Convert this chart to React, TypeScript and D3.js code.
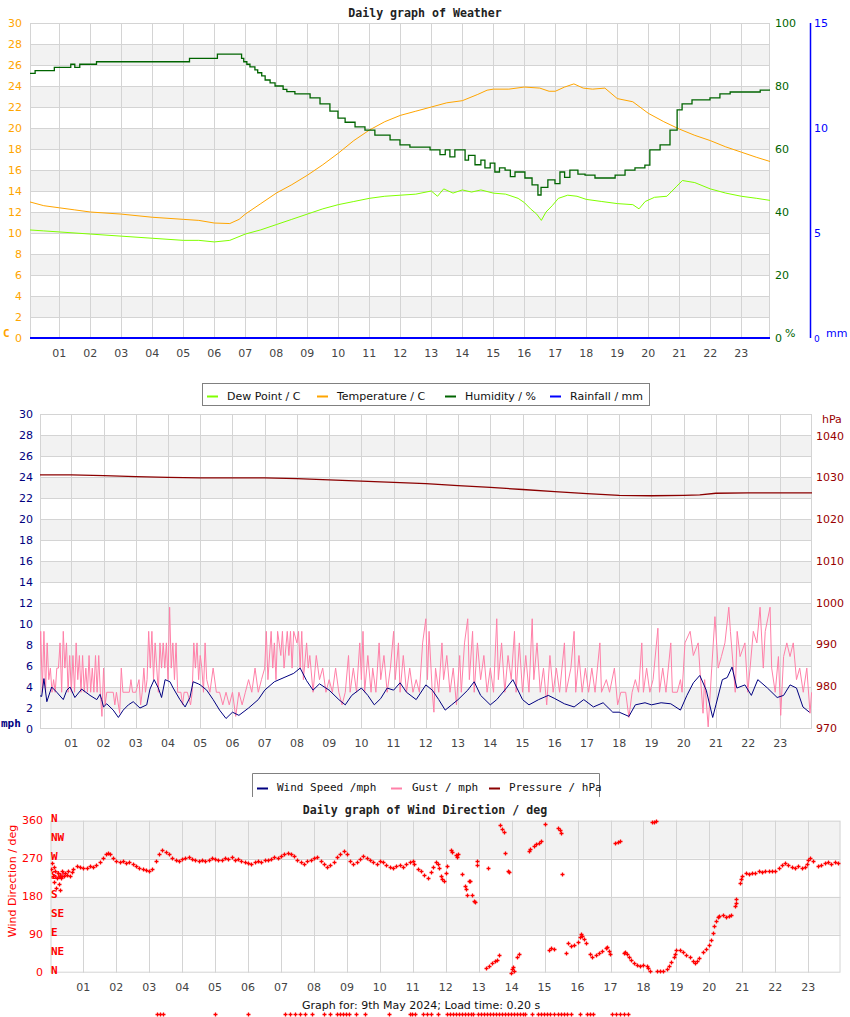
import React from 'react';
import * as d3 from 'd3';

// ---------- DATA ----------
const hourLabels = ["01","02","03","04","05","06","07","08","09","10","11","12","13","14","15","16","17","18","19","20","21","22","23"];
const hourTicks = [1,2,3,4,5,6,7,8,9,10,11,12,13,14,15,16,17,18,19,20,21,22,23];
const tempTicks = [0,2,4,6,8,10,12,14,16,18,20,22,24,26,28,30];
const humTicks = [0,20,40,60,80,100];
const rainTicks = [5,10,15];
const windTicks = [0,2,4,6,8,10,12,14,16,18,20,22,24,26,28,30];
const pressTicks = [970,980,990,1000,1010,1020,1030,1040];
const dirTicks = [0,90,180,270,360];
const compass = [[0,"N"],[45,"NE"],[90,"E"],[135,"SE"],[180,"S"],[225,"SW"],[270,"W"],[315,"NW"],[360,"N"]] as [number,string][];

// [hour, °C]
const temperature: [number,number][] = [[0,13.0],[0.5,12.6],[1,12.4],[1.5,12.2],[2,12.0],[3,11.8],[4,11.5],[5,11.3],[5.5,11.2],[6,10.95],[6.5,10.9],[6.8,11.3],[7,11.8],[7.5,12.8],[8,13.8],[8.5,14.6],[9,15.5],[9.5,16.5],[10,17.6],[10.5,18.8],[11,19.8],[11.5,20.6],[12,21.2],[12.5,21.6],[13,22.0],[13.5,22.4],[14,22.6],[14.5,23.2],[14.8,23.6],[15,23.7],[15.5,23.7],[16,23.9],[16.5,23.8],[16.8,23.5],[17,23.5],[17.3,23.9],[17.6,24.2],[17.9,23.8],[18.2,23.7],[18.6,23.8],[19,22.8],[19.5,22.5],[20,21.4],[20.5,20.6],[21,19.9],[21.5,19.3],[22,18.8],[22.5,18.2],[23,17.7],[23.5,17.2],[23.94,16.8]];
const dewPoint: [number,number][] = [[0,10.3],[0.5,10.2],[1,10.1],[2,9.9],[3,9.7],[4,9.5],[5,9.3],[5.5,9.3],[6,9.15],[6.5,9.3],[7,9.9],[7.5,10.3],[8,10.8],[8.5,11.3],[9,11.8],[9.5,12.3],[10,12.7],[10.5,13.0],[11,13.3],[11.5,13.5],[12,13.6],[12.5,13.7],[13,14.0],[13.2,13.5],[13.4,14.2],[13.7,13.8],[14,14.1],[14.3,13.9],[14.6,14.1],[15,13.8],[15.4,13.7],[15.8,13.3],[16.0,12.9],[16.2,12.3],[16.4,11.8],[16.55,11.2],[16.7,12.0],[16.9,12.6],[17.1,13.3],[17.4,13.6],[17.7,13.5],[18,13.2],[18.5,13.0],[19,12.8],[19.5,12.7],[19.7,12.3],[19.9,13.0],[20.2,13.4],[20.6,13.5],[20.9,14.4],[21.1,15.0],[21.5,14.8],[22,14.2],[22.5,13.8],[23,13.5],[23.5,13.3],[23.94,13.1]];
// [hour, %]
const humidity: [number,number][] = [[0,84.0],[0.22,84.9],[0.84,85.9],[1.37,86.9],[1.5,85.9],[1.66,86.9],[2.2,87.7],[5.2,88.8],[6.1,90.1],[6.88,88.8],[6.95,87.7],[7.05,86.9],[7.15,86.1],[7.31,85.1],[7.4,84.2],[7.53,83.2],[7.64,81.9],[7.8,81.0],[7.96,80.0],[8.22,78.9],[8.34,78.2],[8.6,77.5],[9.09,76.2],[9.41,74.3],[9.73,72.0],[9.99,69.8],[10.22,68.5],[10.54,67.0],[10.86,66.0],[11.18,64.4],[11.67,62.9],[11.99,61.3],[12.31,60.6],[12.64,60.6],[12.96,59.7],[13.28,58.2],[13.45,59.7],[13.6,57.5],[13.76,59.7],[14.09,56.5],[14.2,58.0],[14.41,55.0],[14.6,56.5],[14.73,54.0],[14.9,55.5],[15.05,52.7],[15.2,54.0],[15.38,53.3],[15.55,51.2],[15.7,52.7],[16.02,50.8],[16.25,48.6],[16.44,45.4],[16.54,47.8],[16.76,50.2],[16.99,49.0],[17.15,52.7],[17.3,51.0],[17.47,53.3],[17.73,52.0],[17.96,51.7],[18.28,50.8],[18.6,50.8],[18.93,51.7],[19.25,53.3],[19.57,54.0],[19.89,54.9],[20.05,59.7],[20.38,61.3],[20.7,66.0],[20.93,72.4],[21.09,74.3],[21.41,75.6],[21.67,75.6],[21.99,76.2],[22.31,77.5],[22.64,78.1],[23.29,78.1],[23.61,78.7],[23.94,79.0]];
// [hour, mm]
const rainfall: [number,number][] = [[0,0],[24,0]];
// [hour, hPa]
const pressure: [number,number][] = [[0,1030.7],[1,1030.7],[2,1030.5],[3,1030.3],[4,1030.1],[5,1030.0],[6,1030.0],[7,1030.0],[8,1029.8],[9,1029.5],[10,1029.2],[11,1028.9],[12,1028.6],[13,1028.1],[14,1027.7],[15,1027.2],[16,1026.7],[17,1026.2],[18,1025.8],[19,1025.7],[20,1025.8],[20.5,1025.9],[21,1026.3],[22,1026.4],[23,1026.4],[24,1026.4]];
// [hour, mph]
const windSpeed: [number,number][] = [[0.0,3.2],[0.08,3.1],[0.15,4.8],[0.24,2.6],[0.39,4.0],[0.55,3.5],[0.75,2.8],[0.86,3.7],[0.96,4.0],[1.11,3.0],[1.32,3.8],[1.58,3.2],[1.79,2.8],[1.89,3.3],[1.94,2.8],[2.0,2.1],[2.1,2.4],[2.3,1.8],[2.46,1.1],[2.61,1.8],[2.77,2.3],[2.92,2.6],[3.13,2.0],[3.34,2.3],[3.44,3.8],[3.57,4.7],[3.7,3.9],[3.8,3.0],[3.91,4.7],[4.06,4.5],[4.16,3.9],[4.37,2.8],[4.53,2.1],[4.68,3.0],[4.78,4.5],[4.94,4.3],[5.0,4.2],[5.2,3.7],[5.4,2.8],[5.6,1.8],[5.8,1.0],[6.0,1.6],[6.2,1.3],[6.5,2.0],[6.8,2.8],[7.0,3.7],[7.3,4.5],[7.6,4.9],[7.9,5.3],[8.1,5.8],[8.3,4.6],[8.5,3.7],[8.7,4.3],[9.0,3.7],[9.3,2.8],[9.5,2.3],[9.7,3.2],[10.0,3.9],[10.2,3.2],[10.4,2.3],[10.6,2.9],[10.8,3.9],[11.0,3.7],[11.2,4.4],[11.4,3.5],[11.7,2.8],[12.0,4.2],[12.2,3.7],[12.4,2.8],[12.6,1.8],[12.8,2.3],[13.0,2.8],[13.3,3.7],[13.5,4.5],[13.7,3.2],[14.0,2.3],[14.2,2.8],[14.5,3.9],[14.7,4.7],[15.0,2.8],[15.2,2.3],[15.5,2.8],[15.8,3.2],[16.0,2.9],[16.3,2.4],[16.6,2.1],[16.9,2.8],[17.2,2.1],[17.5,2.5],[17.8,1.6],[18.0,1.6],[18.3,1.2],[18.5,2.3],[18.8,2.5],[19.0,2.3],[19.3,2.5],[19.6,2.4],[19.9,1.8],[20.1,3.2],[20.3,4.4],[20.5,5.1],[20.7,3.7],[20.9,1.1],[21.0,2.3],[21.2,4.7],[21.35,4.9],[21.5,5.9],[21.65,3.9],[21.9,4.2],[22.1,3.2],[22.3,4.7],[22.6,3.9],[22.9,3.0],[23.1,3.2],[23.3,4.2],[23.5,3.9],[23.7,2.1],[23.9,1.6]];
const windGust: [number,number][] = [[0.0,3.5],[0.05,9.3],[0.1,3.5],[0.15,9.3],[0.2,3.5],[0.25,8.2],[0.3,4.7],[0.35,5.8],[0.4,3.5],[0.45,4.7],[0.5,3.5],[0.55,5.8],[0.6,5.8],[0.65,8.2],[0.7,3.5],[0.75,9.3],[0.8,5.8],[0.85,8.2],[0.9,3.5],[0.95,7.0],[1.0,3.5],[1.05,7.0],[1.1,3.5],[1.15,8.2],[1.2,4.7],[1.25,7.0],[1.3,3.5],[1.35,7.0],[1.4,3.5],[1.45,5.8],[1.5,3.5],[1.55,7.0],[1.6,3.5],[1.65,5.8],[1.7,3.5],[1.75,7.0],[1.8,3.5],[1.85,7.0],[1.9,3.5],[1.95,1.2],[2.0,5.8],[2.05,2.3],[2.1,3.5],[2.3,3.5],[2.35,2.3],[2.4,3.5],[2.5,1.5],[2.55,5.8],[2.6,3.5],[2.8,3.5],[2.85,4.7],[2.9,3.5],[3.0,3.5],[3.1,4.7],[3.15,2.3],[3.2,3.5],[3.25,5.8],[3.3,3.5],[3.35,4.7],[3.4,9.3],[3.45,5.8],[3.5,9.3],[3.55,4.7],[3.6,8.2],[3.65,5.8],[3.7,3.5],[3.75,8.2],[3.8,5.8],[3.85,8.2],[3.9,5.8],[3.95,8.2],[4.0,4.7],[4.05,11.6],[4.1,5.8],[4.15,8.2],[4.2,4.7],[4.25,8.2],[4.3,3.5],[4.4,3.5],[4.45,2.3],[4.5,3.5],[4.6,3.5],[4.7,2.3],[4.75,3.5],[4.8,8.2],[4.85,5.8],[4.9,8.2],[4.95,4.7],[5.0,7.0],[5.05,5.8],[5.1,3.5],[5.15,8.2],[5.2,4.7],[5.3,3.5],[5.4,5.8],[5.5,3.5],[5.6,3.5],[5.7,2.3],[5.8,3.5],[5.9,2.3],[6.0,3.5],[6.1,1.2],[6.2,3.5],[6.3,2.3],[6.4,3.5],[6.5,4.7],[6.6,3.5],[6.7,5.8],[6.8,3.5],[6.9,4.7],[7.0,5.8],[7.05,9.3],[7.1,4.7],[7.2,9.3],[7.25,5.8],[7.3,8.2],[7.35,4.7],[7.4,9.3],[7.5,7.0],[7.55,9.3],[7.6,5.8],[7.7,9.3],[7.75,7.0],[7.8,9.3],[7.85,5.8],[7.9,9.3],[8.0,8.2],[8.05,9.3],[8.1,5.8],[8.15,9.3],[8.2,4.7],[8.3,8.2],[8.35,5.8],[8.4,7.0],[8.5,3.5],[8.6,7.0],[8.7,4.7],[8.8,5.8],[8.9,3.5],[9.0,4.7],[9.1,3.5],[9.2,5.8],[9.3,3.5],[9.4,2.3],[9.5,3.5],[9.6,7.0],[9.65,3.5],[9.75,5.8],[9.85,3.5],[9.95,8.2],[10.0,4.7],[10.05,9.3],[10.1,3.5],[10.2,7.0],[10.3,3.5],[10.35,5.8],[10.45,3.5],[10.55,8.2],[10.6,4.7],[10.7,7.0],[10.8,3.5],[10.9,5.8],[11.0,9.3],[11.05,4.7],[11.15,8.2],[11.2,3.5],[11.3,7.0],[11.4,3.5],[11.5,5.8],[11.6,3.5],[11.7,4.7],[11.8,3.5],[11.9,8.2],[12.0,10.5],[12.05,4.7],[12.1,9.3],[12.2,3.5],[12.25,1.6],[12.3,5.8],[12.4,3.5],[12.5,8.2],[12.55,4.7],[12.65,7.0],[12.75,3.5],[12.85,5.8],[12.95,2.3],[13.05,7.0],[13.1,3.5],[13.2,8.2],[13.3,10.5],[13.35,4.7],[13.45,9.3],[13.5,3.5],[13.6,8.2],[13.7,4.7],[13.8,7.0],[13.9,3.5],[14.0,5.8],[14.1,3.5],[14.2,10.5],[14.25,4.7],[14.35,8.2],[14.45,3.5],[14.55,7.0],[14.65,4.7],[14.75,9.3],[14.8,3.5],[14.9,8.2],[15.0,3.5],[15.1,7.0],[15.2,3.5],[15.3,10.5],[15.35,4.7],[15.45,8.2],[15.55,3.5],[15.65,5.8],[15.75,2.3],[15.85,7.0],[15.95,3.5],[16.05,5.8],[16.15,3.5],[16.3,8.2],[16.35,3.5],[16.5,5.8],[16.6,9.3],[16.65,3.5],[16.75,7.0],[16.85,3.5],[16.95,5.8],[17.05,3.5],[17.15,5.8],[17.25,3.5],[17.4,8.2],[17.45,3.5],[17.6,4.7],[17.7,3.5],[17.85,5.8],[17.95,2.3],[18.05,3.5],[18.2,3.5],[18.3,1.1],[18.4,3.5],[18.5,4.7],[18.6,3.5],[18.7,8.2],[18.75,3.5],[18.85,5.8],[18.95,3.5],[19.05,4.7],[19.2,9.6],[19.25,3.5],[19.35,5.8],[19.45,3.5],[19.6,8.2],[19.65,3.5],[19.8,3.5],[19.9,4.7],[19.95,3.5],[20.04,8.2],[20.2,9.3],[20.3,7.0],[20.45,8.2],[20.5,5.8],[20.6,1.5],[20.65,4.7],[20.76,0.2],[20.87,5.8],[20.97,10.7],[21.07,5.8],[21.17,6.9],[21.28,8.2],[21.4,11.6],[21.45,9.3],[21.6,3.5],[21.66,9.3],[21.75,6.9],[21.9,8.2],[21.99,3.5],[22.06,5.8],[22.16,9.3],[22.27,8.2],[22.37,11.6],[22.47,5.8],[22.53,9.3],[22.68,11.6],[22.73,5.8],[22.84,3.5],[22.94,6.9],[23.01,1.3],[23.1,6.9],[23.2,8.2],[23.3,6.9],[23.4,8.2],[23.5,4.7],[23.6,5.8],[23.71,3.5],[23.82,5.8],[23.92,1.5],[23.97,3.5]];
// [hour, degrees]
const windDir: [number,number][] = [[0.02,245],[0.05,260],[0.08,230],[0.1,215],[0.12,250],[0.15,240],[0.18,200],[0.2,225],[0.22,235],[0.25,210],[0.28,230],[0.3,195],[0.32,225],[0.35,240],[0.4,230],[0.45,235],[0.5,232],[0.55,240],[0.6,228],[0.65,238],[0.7,245],[0.8,252],[0.9,250],[1.0,247],[1.1,248],[1.2,252],[1.3,250],[1.4,255],[1.5,262],[1.6,272],[1.7,280],[1.75,283],[1.8,280],[1.9,272],[2.0,265],[2.1,262],[2.2,265],[2.3,260],[2.4,262],[2.5,258],[2.6,252],[2.7,248],[2.8,245],[2.9,243],[3.0,240],[3.1,245],[3.2,265],[3.3,280],[3.4,290],[3.5,287],[3.6,280],[3.7,272],[3.8,268],[3.9,265],[4.0,270],[4.1,272],[4.2,275],[4.3,270],[4.4,266],[4.5,265],[4.6,268],[4.7,264],[4.8,268],[4.9,272],[5.0,270],[5.1,266],[5.2,268],[5.3,272],[5.4,270],[5.5,273],[5.6,268],[5.7,270],[5.8,265],[5.9,262],[6.0,260],[6.1,258],[6.2,262],[6.3,265],[6.4,263],[6.5,268],[6.6,266],[6.7,270],[6.8,274],[6.9,272],[7.0,277],[7.1,280],[7.2,284],[7.3,282],[7.4,276],[7.5,268],[7.6,262],[7.7,258],[7.8,265],[7.9,268],[8.0,272],[8.1,275],[8.2,265],[8.3,258],[8.4,250],[8.5,255],[8.6,262],[8.7,275],[8.8,282],[8.9,288],[9.0,280],[9.1,265],[9.2,258],[9.3,262],[9.4,270],[9.5,276],[9.6,272],[9.7,268],[9.8,262],[9.9,258],[10.0,265],[10.1,262],[10.2,255],[10.3,250],[10.4,248],[10.5,252],[10.6,256],[10.7,250],[10.8,258],[10.9,262],[11.0,265],[11.05,258],[11.15,245],[11.25,240],[11.35,232],[11.45,225],[11.55,238],[11.6,250],[11.7,262],[11.75,258],[11.8,248],[11.85,228],[11.9,222],[11.95,218],[12.0,235],[12.05,252],[12.15,290],[12.2,285],[12.3,278],[12.35,275],[12.38,280],[12.48,234],[12.58,205],[12.6,198],[12.65,183],[12.7,218],[12.75,218],[12.8,183],[12.85,170],[12.9,167],[12.95,255],[12.96,265],[13.22,12],[13.29,248],[13.3,17],[13.4,22],[13.5,28],[13.55,30],[13.61,42],[13.66,350],[13.72,340],[13.78,333],[13.8,284],[13.9,241],[13.93,238],[13.97,0],[14.0,8],[14.03,14],[14.08,5],[14.17,38],[14.22,44],[14.52,288],[14.57,292],[14.68,300],[14.75,305],[14.82,308],[14.88,313],[15.0,352],[15.12,53],[15.2,58],[15.28,55],[15.42,343],[15.47,338],[15.5,330],[15.54,234],[15.64,47],[15.72,70],[15.8,64],[15.9,66],[16.0,72],[16.07,85],[16.1,92],[16.15,88],[16.2,80],[16.27,70],[16.37,45],[16.45,38],[16.55,42],[16.65,46],[16.75,52],[16.85,58],[16.9,60],[16.95,52],[16.98,45],[17.15,308],[17.22,310],[17.28,312],[17.4,47],[17.45,50],[17.5,45],[17.55,38],[17.62,30],[17.7,22],[17.8,18],[17.9,15],[18.0,18],[18.1,17],[18.15,12],[18.2,5],[18.25,357],[18.32,358],[18.38,359],[18.42,3],[18.5,5],[18.6,5],[18.7,8],[18.78,15],[18.85,25],[18.92,38],[18.96,45],[19.0,53],[19.1,53],[19.2,48],[19.3,42],[19.4,38],[19.5,28],[19.56,23],[19.62,28],[19.7,35],[19.8,48],[19.9,55],[20.0,65],[20.05,78],[20.1,95],[20.15,110],[20.2,122],[20.25,132],[20.3,135],[20.4,136],[20.5,133],[20.6,135],[20.65,137],[20.78,158],[20.8,165],[20.82,175],[20.93,212],[20.97,222],[21.0,230],[21.1,235],[21.2,233],[21.3,236],[21.4,237],[21.5,240],[21.6,238],[21.7,242],[21.8,240],[21.9,241],[22.0,242],[22.1,248],[22.2,255],[22.3,260],[22.4,255],[22.5,250],[22.6,248],[22.7,253],[22.8,248],[22.9,250],[22.95,258],[23.0,268],[23.05,272],[23.15,265],[23.3,252],[23.4,255],[23.5,260],[23.6,262],[23.7,258],[23.8,262],[23.9,260]];
// hours of the marks peeking in at the very bottom
const bottomStrip: number[] = [3.24,3.33,3.42,5.0,6.0,7.12,7.27,7.43,7.58,7.73,7.94,8.3,8.49,8.7,8.79,8.88,8.97,9.06,9.27,9.55,10.28,10.9,10.97,11.07,11.31,11.43,11.55,11.76,12.04,12.13,12.22,12.31,12.4,12.49,12.58,12.67,12.77,12.83,12.98,13.07,13.16,13.25,13.34,13.43,13.52,13.61,13.7,13.79,13.88,13.97,14.06,14.15,14.24,14.33,14.42,14.62,14.8,14.89,14.98,15.07,15.16,15.3,15.4,15.5,15.6,15.68,15.8,16.07,16.29,16.38,16.47,17.05,17.17,17.29,17.41,17.53];

// ---------- STYLE ----------
const SANS = "'DejaVu Sans', sans-serif";
const MONO = "'DejaVu Sans Mono', monospace";
const GRID = "#d4d4d4";
const BAND = "#f2f2f2";
const C_TEMP = "#ffa500";
const C_DEW = "#80ff00";
const C_HUM = "#006400";
const C_RAIN = "#0000ff";
const C_WIND = "#000080";
const C_GUST = "#ff80a8";
const C_PRESS = "#8b0000";
const C_DIR = "#ff0000";

// ---------- SCALES ----------
const p1 = { l: 30, r: 770, t: 23, b: 338 };
const x1 = d3.scaleLinear().domain([0, 24]).range([28.3, 772.3]);
const y1 = d3.scaleLinear().domain([0, 30]).range([338, 23]);
const yHum = d3.scaleLinear().domain([0, 100]).range([338, 23]);
const yRain = d3.scaleLinear().domain([0, 15]).range([338, 23]);

const p2 = { l: 40, r: 812, t: 414, b: 729 };
const x2 = d3.scaleLinear().domain([0, 24]).range([39.1, 812.6]);
const y2 = d3.scaleLinear().domain([0, 30]).range([729, 414]);
const yP = d3.scaleLinear().domain([970, 1040]).range([728.5, 436]);

const p3 = { l: 50.5, r: 840.5, t: 820.7, b: 972.7 };
const x3 = d3.scaleLinear().domain([0, 24]).range([50.35, 841.15]);
const y3 = d3.scaleLinear().domain([0, 360]).range([972.7, 820.7]);

function mkLine(x: any, y: any, curve: any = d3.curveLinear) {
  return d3.line<[number, number]>().x(d => x(d[0])).y(d => y(d[1])).curve(curve);
}

function Grid({ p, x, y, bands, lines }: any) {
  return (
    <g>
      <rect x={p.l} y={p.t} width={p.r - p.l} height={p.b - p.t} fill="#fff" />
      {bands.map((b: [number, number], i: number) => (
        <rect key={'b' + i} x={p.l} y={y(b[1])} width={p.r - p.l} height={y(b[0]) - y(b[1])} fill={BAND} />
      ))}
      {lines.map((v: number, i: number) => (
        <line key={'h' + i} x1={p.l} x2={p.r} y1={Math.round(y(v)) + 0.5} y2={Math.round(y(v)) + 0.5} stroke={GRID} />
      ))}
      {hourTicks.map((h, i) => (
        <line key={'v' + i} x1={Math.round(x(h)) + 0.5} x2={Math.round(x(h)) + 0.5} y1={p.t} y2={p.b} stroke={GRID} />
      ))}
      <rect x={p.l + 0.5} y={p.t + 0.5} width={p.r - p.l - 1} height={p.b - p.t - 1} fill="none" stroke={GRID} />
    </g>
  );
}

function XLabels({ x, yy }: any) {
  return (
    <g>
      {hourTicks.map((h, i) => (
        <text key={i} x={x(h)} y={yy} textAnchor="middle" fontFamily={SANS} fontSize={11} fill="#444">{hourLabels[i]}</text>
      ))}
    </g>
  );
}

function Cross({ cx, cy }: { cx: number; cy: number }) {
  const X = Math.round(cx) + 0.5, Y = Math.round(cy) + 0.5;
  return <path d={`M${X - 2},${Y}H${X + 2}M${X},${Y - 2}V${Y + 2}`} stroke={C_DIR} strokeWidth={1.3} fill="none" />;
}

export default function App() {
  const bandsT = [[2,4],[6,8],[10,12],[14,16],[18,20],[22,24],[26,28]];
  const linesT = [2,4,6,8,10,12,14,16,18,20,22,24,26,28];
  const l1 = mkLine(x1, y1);
  const lHum = mkLine(x1, yHum, d3.curveStepAfter);
  const lRain = mkLine(x1, yRain);
  const l2 = mkLine(x2, y2);
  const lP = mkLine(x2, yP);

  return (
    <svg width={850} height={1017} style={{ position: 'absolute', left: 0, top: 0, background: '#fff' }}>
      <defs>
        <clipPath id="c1"><rect x={p1.l} y={p1.t - 1} width={p1.r - p1.l} height={p1.b - p1.t + 2} /></clipPath>
        <clipPath id="c2"><rect x={p2.l} y={p2.t - 1} width={p2.r - p2.l} height={p2.b - p2.t + 2} /></clipPath>
        <clipPath id="c3"><rect x={p3.l} y={p3.t - 3} width={p3.r - p3.l + 3} height={p3.b - p3.t + 6} /></clipPath>
      </defs>
      <rect x={0} y={0} width={850} height={1017} fill="#fff" />

      {/* ---------- CHART 1 ---------- */}
      <text x={425} y={13} textAnchor="middle" dominantBaseline="central" fontFamily={MONO} fontWeight="bold" fontSize={11.6} fill="#222">Daily graph of Weather</text>
      <Grid p={p1} x={x1} y={y1} bands={bandsT} lines={linesT} />
      <g clipPath="url(#c1)" fill="none" strokeWidth={1}>
        <path d={l1(dewPoint) || ''} stroke={C_DEW} />
        <path d={l1(temperature) || ''} stroke={C_TEMP} />
        <path d={lHum(humidity) || ''} stroke={C_HUM} strokeWidth={1.3} />
        <path d={lRain(rainfall) || ''} stroke={C_RAIN} strokeWidth={2} />
      </g>
      {tempTicks.map(v => (
        <text key={v} x={22} y={y1(v)} textAnchor="end" dominantBaseline="central" fontFamily={SANS} fontSize={11} fill={C_TEMP}>{v}</text>
      ))}
      <text x={3} y={333} dominantBaseline="central" fontFamily={MONO} fontWeight="bold" fontSize={11} fill={C_TEMP}>C</text>
      {humTicks.map(v => (
        <text key={v} x={775} y={yHum(v)} dominantBaseline="central" fontFamily={SANS} fontSize={11} fill={C_HUM}>{v}</text>
      ))}
      <text x={785} y={333} dominantBaseline="central" fontFamily={SANS} fontSize={11} fill={C_HUM}>%</text>
      <line x1={810.5} x2={810.5} y1={p1.t} y2={p1.b} stroke={C_RAIN} strokeWidth={1.5} />
      {rainTicks.map(v => (
        <text key={v} x={814} y={yRain(v)} dominantBaseline="central" fontFamily={SANS} fontSize={11} fill={C_RAIN}>{v}</text>
      ))}
      <text x={814} y={yRain(0) + 1} dominantBaseline="central" fontFamily={SANS} fontSize={9} fill={C_RAIN}>0</text>
      <text x={826} y={333} dominantBaseline="central" fontFamily={SANS} fontSize={11} fill={C_RAIN}>mm</text>
      <XLabels x={x1} yy={357} />

      {/* ---------- CHART 2 ---------- */}
      <Grid p={p2} x={x2} y={y2} bands={bandsT} lines={linesT} />
      <g clipPath="url(#c2)" fill="none" strokeWidth={1}>
        <path d={lP(pressure) || ''} stroke={C_PRESS} strokeWidth={1.3} />
        <path d={l2(windGust) || ''} stroke={C_GUST} />
        <path d={l2(windSpeed) || ''} stroke={C_WIND} />
      </g>
      {windTicks.map(v => (
        <text key={v} x={33} y={y2(v)} textAnchor="end" dominantBaseline="central" fontFamily={SANS} fontSize={11} fill={C_WIND}>{v}</text>
      ))}
      <text x={1} y={723} dominantBaseline="central" fontFamily={MONO} fontWeight="bold" fontSize={11} fill={C_WIND}>mph</text>
      {pressTicks.map(v => (
        <text key={v} x={816} y={yP(v)} dominantBaseline="central" fontFamily={SANS} fontSize={11} fill="#990000">{v}</text>
      ))}
      <text x={822} y={419} dominantBaseline="central" fontFamily={SANS} fontSize={11} fill="#990000">hPa</text>
      <XLabels x={x2} yy={747} />

      {/* legend 1 */}
      <rect x={202.5} y={383.5} width={447} height={22} fill="#fff" stroke="#808080" />
      {[
        [207, 227, C_DEW, "Dew Point / C"],
        [317, 337, C_TEMP, "Temperature / C"],
        [445, 465, C_HUM, "Humidity / %"],
        [550, 570, C_RAIN, "Rainfall / mm"],
      ].map((it: any, i) => (
        <g key={i}>
          <line x1={it[0]} x2={it[0] + 11} y1={396.5} y2={396.5} stroke={it[2]} strokeWidth={2} />
          <text x={it[1]} y={396} dominantBaseline="central" fontFamily={SANS} fontSize={11} fill="#111">{it[3]}</text>
        </g>
      ))}

      {/* legend 2 */}
      <rect x={252.5} y={773.5} width={347} height={24} fill="#fff" />
      <path d="M252.5,797V773.5H599.5V797" fill="none" stroke="#808080" />
      {[
        [257, 277, C_WIND, "Wind Speed /mph"],
        [391, 412, C_GUST, "Gust / mph"],
        [489, 509, C_PRESS, "Pressure / hPa"],
      ].map((it: any, i) => (
        <g key={i}>
          <line x1={it[0]} x2={it[0] + 11} y1={788.5} y2={788.5} stroke={it[2]} strokeWidth={2} />
          <text x={it[1]} y={787} dominantBaseline="central" fontFamily={MONO} fontSize={11} fill="#111">{it[3]}</text>
        </g>
      ))}

      {/* ---------- CHART 3 ---------- */}
      <text x={425} y={810} textAnchor="middle" dominantBaseline="central" fontFamily={MONO} fontWeight="bold" fontSize={11.6} fill="#222">Daily graph of Wind Direction / deg</text>
      <Grid p={p3} x={x3} y={y3} bands={[[90,180],[270,360]]} lines={[90,180,270]} />
      <g clipPath="url(#c3)">
        {windDir.map((d, i) => <Cross key={i} cx={x3(d[0])} cy={y3(d[1])} />)}
      </g>
      {dirTicks.map(v => (
        <text key={v} x={43} y={y3(v)} textAnchor="end" dominantBaseline="central" fontFamily={SANS} fontSize={11} fill={C_DIR}>{v}</text>
      ))}
      {compass.map(([v, s], i) => (
        <text key={i} x={51} y={y3(v) - 2} dominantBaseline="central" fontFamily={MONO} fontWeight="bold" fontSize={11} fill={C_DIR}>{s}</text>
      ))}
      <text transform={`translate(12,${881}) rotate(-90)`} textAnchor="middle" dominantBaseline="central" fontFamily={SANS} fontSize={11} fill={C_DIR}>Wind Direction / deg</text>
      <XLabels x={x3} yy={991} />

      <text x={421} y={1005} textAnchor="middle" dominantBaseline="central" fontFamily={SANS} fontSize={11} fill="#111">Graph for: 9th May 2024; Load time: 0.20 s</text>
      {bottomStrip.map((h, i) => <Cross key={'s' + i} cx={x3(h)} cy={1014} />)}
    </svg>
  );
}
